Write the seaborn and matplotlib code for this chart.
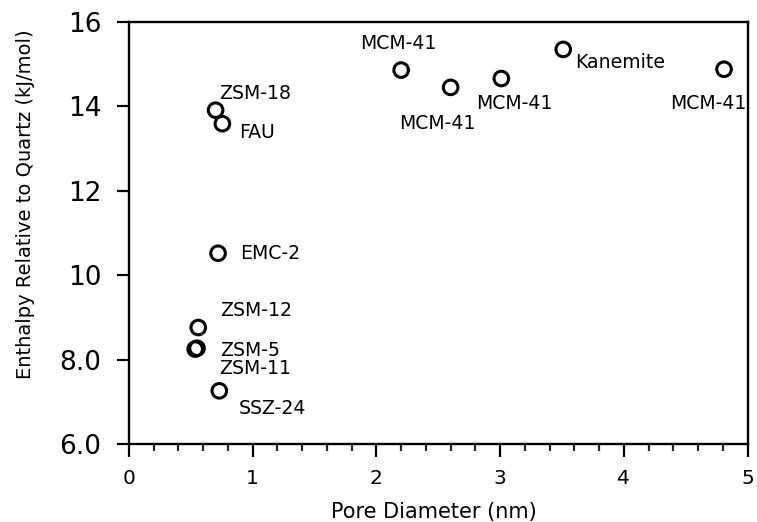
import matplotlib
matplotlib.use("Agg")
import matplotlib.pyplot as plt
import seaborn as sns
import pandas as pd
from matplotlib.ticker import MultipleLocator, FixedLocator

sns.set_theme(style="white")
plt.rcParams['font.family'] = ['DejaVu Sans']

# Data
materials = ["ZSM-18", "FAU", "EMC-2", "ZSM-12", "ZSM-5", "ZSM-11", "SSZ-24",
             "MCM-41", "MCM-41", "MCM-41", "Kanemite", "MCM-41"]
pore_diameter = [0.70, 0.755, 0.72, 0.56, 0.55, 0.535, 0.73,
                 2.20, 2.60, 3.01, 3.51, 4.81]
enthalpy = [13.91, 13.59, 10.52, 8.76, 8.27, 8.25, 7.26,
            14.86, 14.45, 14.66, 15.35, 14.88]

y_ticks = [6, 8, 10, 12, 14, 16]
y_tick_labels = ["6.0", "8.0", "10", "12", "14", "16"]
x_ticks = [0, 1, 2, 3, 4, 5]

df = pd.DataFrame({"material": materials, "d": pore_diameter, "h": enthalpy})

# label placement (offset in pixels from marker centre, alignment)
label_style = [
    ((4, 17), "left"), ((17, -9), "left"), ((22, 0), "left"),
    ((22, 17), "left"), ((23, -2), "left"), ((24, -19), "left"),
    ((19, -18), "left"),
    ((-3, 27), "center"), ((-13, -36), "center"), ((13, -25), "center"),
    ((12, -13), "left"), ((-16, -34), "center"),
]

fig = plt.figure(figsize=(7.57, 5.22), dpi=100)
ax = fig.add_axes([0.1704, 0.1494, 0.9875 - 0.1704, 0.9579 - 0.1494])

sns.scatterplot(data=df, x="d", y="h", ax=ax, marker="o", s=110,
                facecolor="none", edgecolor="black", linewidth=2.2,
                legend=False, zorder=3)

for (name, xv, yv), ((dx, dy), ha) in zip(zip(materials, pore_diameter, enthalpy), label_style):
    ax.annotate(name, (xv, yv), xytext=(dx, dy), textcoords="offset pixels",
                ha=ha, va="center", fontsize=13.6, color="black")

ax.set_xlim(0, 5)
ax.set_ylim(6, 16)
ax.xaxis.set_major_locator(FixedLocator(x_ticks))
ax.xaxis.set_minor_locator(MultipleLocator(0.2))
ax.yaxis.set_major_locator(FixedLocator(y_ticks))
ax.set_yticklabels(y_tick_labels)
ax.set_xticklabels([str(t) for t in x_ticks])

ax.tick_params(axis="x", which="major", direction="out", length=9, width=1.6,
               labelsize=14.5, pad=9, bottom=True, colors="black")
ax.tick_params(axis="x", which="minor", direction="out", length=5, width=1.6,
               bottom=True)
ax.tick_params(axis="y", which="major", direction="out", length=9, width=1.6,
               labelsize=19, pad=11, left=True, colors="black")

for sp in ax.spines.values():
    sp.set_visible(True)
    sp.set_color("black")
    sp.set_linewidth(1.7)

ax.set_xlabel("Pore Diameter (nm)", fontsize=15, color="black")
ax.set_ylabel("Enthalpy Relative to Quartz (kJ/mol)", fontsize=14,
              color="black")
ax.xaxis.set_label_coords(0.493, -0.137)
ax.yaxis.set_label_coords(-0.152, 0.569)
ax.grid(False)

fig.savefig("out.png", dpi=100, facecolor="white")
